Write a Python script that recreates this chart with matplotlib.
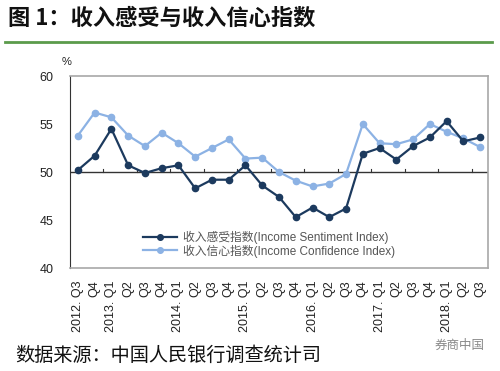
import matplotlib.pyplot as plt
from matplotlib.lines import Line2D

plt.rcParams['font.family'] = ['Liberation Sans', 'Noto Sans CJK SC', 'DejaVu Sans']

# 季度标签
quarters = ['2012. Q3', 'Q4', '2013. Q1', 'Q2', 'Q3', 'Q4', '2014. Q1', 'Q2', 'Q3', 'Q4',
            '2015. Q1', 'Q2', 'Q3', 'Q4', '2016. Q1', 'Q2', 'Q3', 'Q4',
            '2017. Q1', 'Q2', 'Q3', 'Q4', '2018. Q1', 'Q2', 'Q3']
# 收入感受指数
sentiment = [50.2, 51.7, 54.5, 50.7, 49.9, 50.4, 50.7, 48.3, 49.2, 49.2,
             50.7, 48.6, 47.4, 45.3, 46.3, 45.3, 46.2, 51.9, 52.5, 51.3,
             52.7, 53.6, 55.3, 53.2, 53.6]
# 收入信心指数
confidence = [53.8, 56.2, 55.7, 53.8, 52.7, 54.1, 53.0, 51.6, 52.5, 53.4,
              51.4, 51.5, 50.0, 49.1, 48.5, 48.8, 49.8, 55.0, 53.0, 52.9,
              53.4, 55.0, 54.2, 53.5, 52.6]
labels = ['收入感受指数(Income Sentiment Index)', '收入信心指数(Income Confidence Index)']

dark = '#1c3a5e'
light = '#8cb2e4'

fig = plt.figure(figsize=(5, 3.71), dpi=100)
ax = fig.add_axes([0.14, 0.2776, 0.836, 0.5174])

x = range(len(quarters))
ax.plot(x, sentiment, color=dark, lw=1.6, marker='o', ms=4.5, label=labels[0], zorder=4)
ax.plot(x, confidence, color=light, lw=1.6, marker='o', ms=4.5, label=labels[1], zorder=3)

ax.set_xlim(-0.47, len(quarters) - 0.53)
ax.set_ylim(40, 60)
ax.set_yticks([40, 45, 50, 55, 60])
ax.tick_params(axis='y', length=0, pad=12, labelsize=9, labelcolor='#222222')
ax.set_xticks(list(x))
ax.set_xticklabels(quarters, rotation=90, fontsize=9, color='#222222')
ax.tick_params(axis='x', length=0, pad=9)

# 50 处的横轴和刻度
ax.axhline(50, color='#333333', lw=1.0, zorder=2)
for b in range(1, len(quarters), 2):
    ax.plot([b + 0.5, b + 0.5], [50, 50.3], color='#333333', lw=0.8, zorder=2)

for s in ['top', 'right', 'bottom']:
    ax.spines[s].set_color('#a8a8a8')
    ax.spines[s].set_linewidth(1.2)
ax.spines['left'].set_color('#333333')

ax.legend(loc='upper left', bbox_to_anchor=(0.175, 0.195), frameon=False, fontsize=8.5,
          handlelength=2.9, handletextpad=0.5, borderpad=0, borderaxespad=0,
          labelspacing=0.05, labelcolor='#555555', markerscale=0.9)

fig.text(0.124, 0.833, '%', fontsize=8, color='#222222', ha='left', va='center')

# 标题与绿线
fig.text(0.016, 0.951, '图 1：收入感受与收入信心指数', fontsize=16, fontweight='bold',
         family=['Noto Sans CJK SC'], ha='left', va='center', color='#111111')
fig.add_artist(Line2D([0.01, 0.984], [0.887, 0.887], color='#5b9b4b', lw=2))

fig.text(0.03, 0.043, '数据来源：中国人民银行调查统计司', fontsize=13.8,
         family=['Noto Sans CJK SC'], ha='left', va='center', color='#111111')
fig.text(0.97, 0.07, '券商中国', fontsize=9, family=['Noto Sans CJK SC'],
         ha='right', va='center', color='#888888')

fig.savefig('out.png', dpi=100)
